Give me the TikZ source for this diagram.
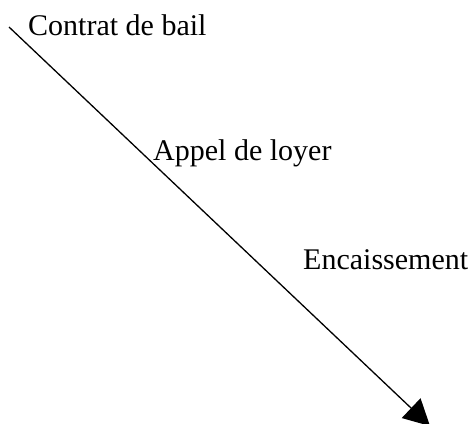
\documentclass[tikz,border=0pt]{standalone}
\usepackage{fontspec}
\setmainfont{Liberation Serif}
\usetikzlibrary{arrows.meta}
\begin{document}
\begin{tikzpicture}[x=1pt,y=-1pt,
  lbl/.style={anchor=base west,inner sep=0pt,font=\fontsize{30}{34}\selectfont},
  conn/.style={line width=1.3pt,-{Triangle[length=26pt,width=27pt]}}]
\useasboundingbox (0,0) rectangle (470,423);
\clip (0,0) rectangle (470,423);
\coordinate (start) at (9,27);
\coordinate (end) at (430,426);
\draw[conn] (start) -- (end);
\node[lbl] (contrat) at (28,35) {Contrat de bail};
\node[lbl] (appel) at (153,160) {Appel de loyer};
\node[lbl] (enc) at (303,269) {Encaissement};
\end{tikzpicture}
\end{document}
